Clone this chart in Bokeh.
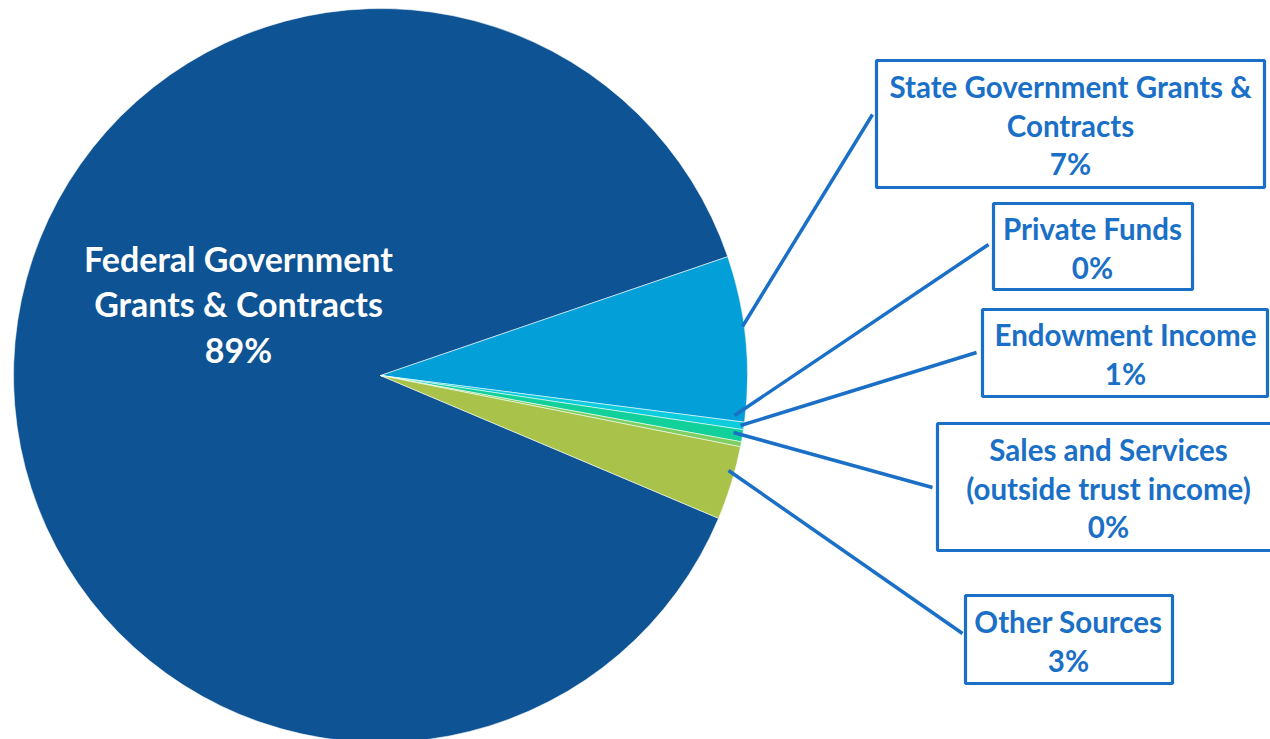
import math
from bokeh.plotting import figure
from bokeh.models import Range1d, ColumnDataSource
from bokeh.core.properties import value
from bokeh.embed import file_html
from bokeh.resources import INLINE

# ---- data ----
categories = ["Federal Government Grants & Contracts", "State Government Grants & Contracts",
              "Private Funds", "Endowment Income", "Sales and Services (outside trust income)",
              "Other Sources"]
shares = [88.4, 7.28, 0.33, 0.53, 0.22, 3.25]
pct_labels = ["89%", "7%", "0%", "1%", "0%", "3%"]
label_lines = [
    ["Federal Government", "Grants & Contracts"],
    ["State Government Grants &", "Contracts"],
    ["Private Funds"],
    ["Endowment Income"],
    ["Sales and Services", "(outside trust income)"],
    ["Other Sources"],
]
colors = ["#0E5394", "#039FD9", "#0DCCDB", "#11D09A", "#7ECF62", "#A8C24A"]

# ---- layout (pixel coordinates, y measured from top) ----
W, H = 1270, 739
CX, CY, R = 380, 375, 367
START_DEG = -22.9
FONT = "Lato"
BLUE = "#1A6FC7"

def Y(py):
    return H - py

p = figure(width=W, height=H, output_backend="svg", toolbar_location=None,
           x_range=Range1d(0, W), y_range=Range1d(0, H), min_border=0)
p.axis.visible = False
p.grid.visible = False
p.outline_line_color = None
p.background_fill_color = "white"
p.border_fill_color = "white"

total = sum(shares)
starts, ends = [], []
a = math.radians(START_DEG)
for s in shares:
    sweep = s / total * 2 * math.pi
    starts.append(a)
    ends.append(a - sweep)
    a -= sweep

src = ColumnDataSource(dict(start=starts, end=ends, color=colors))
p.wedge(x=CX, y=Y(CY), radius=R, start_angle="start", end_angle="end",
        direction="clock", fill_color="color", line_color="white",
        line_width=0.8, line_alpha=0.7, source=src)

# Federal label inside the pie
fed_lines = label_lines[0] + [pct_labels[0]]
fed_y = [258, 303, 349]
p.text(x=[238] * 3, y=[Y(v) for v in fed_y], text=fed_lines,
       text_font=value(FONT), text_font_style="bold", text_font_size="34px",
       text_color="white", text_align="center", text_baseline="middle")

# callout boxes: (left, top, right, bottom), text center x, first line y
boxes = [
    None,
    (876, 60, 1264, 187, 1070, 86),
    (993, 203, 1192, 289, 1092, 228),
    (982, 309, 1267, 396, 1125, 334),
    (937, 423, 1285, 550, 1108, 449),
    (965, 595, 1172, 683, 1068, 621),
]
leaders = [
    None,
    ((742, 326), (872, 114)),
    ((734, 415), (988, 244)),
    ((740, 425), (976, 352)),
    ((733, 432), (932, 487)),
    ((728, 470), (962, 633)),
]
LINE_GAP = 38.5
for i in range(1, len(categories)):
    (x0, y0), (x1, y1) = leaders[i]
    p.line(x=[x0, x1], y=[Y(y0), Y(y1)], line_color=BLUE, line_width=3.5)
    l, t, r, b, tx, ty = boxes[i]
    p.quad(left=l, right=r, top=Y(t), bottom=Y(b), fill_color="white",
           line_color=BLUE, line_width=3.2)
    lines = label_lines[i] + [pct_labels[i]]
    p.text(x=[tx] * len(lines), y=[Y(ty + k * LINE_GAP) for k in range(len(lines))],
           text=lines, text_font=value(FONT), text_font_style="bold",
           text_font_size="29.5px", text_color=BLUE, text_align="center",
           text_baseline="middle")

open("out.html", "w").write(file_html(p, INLINE))
